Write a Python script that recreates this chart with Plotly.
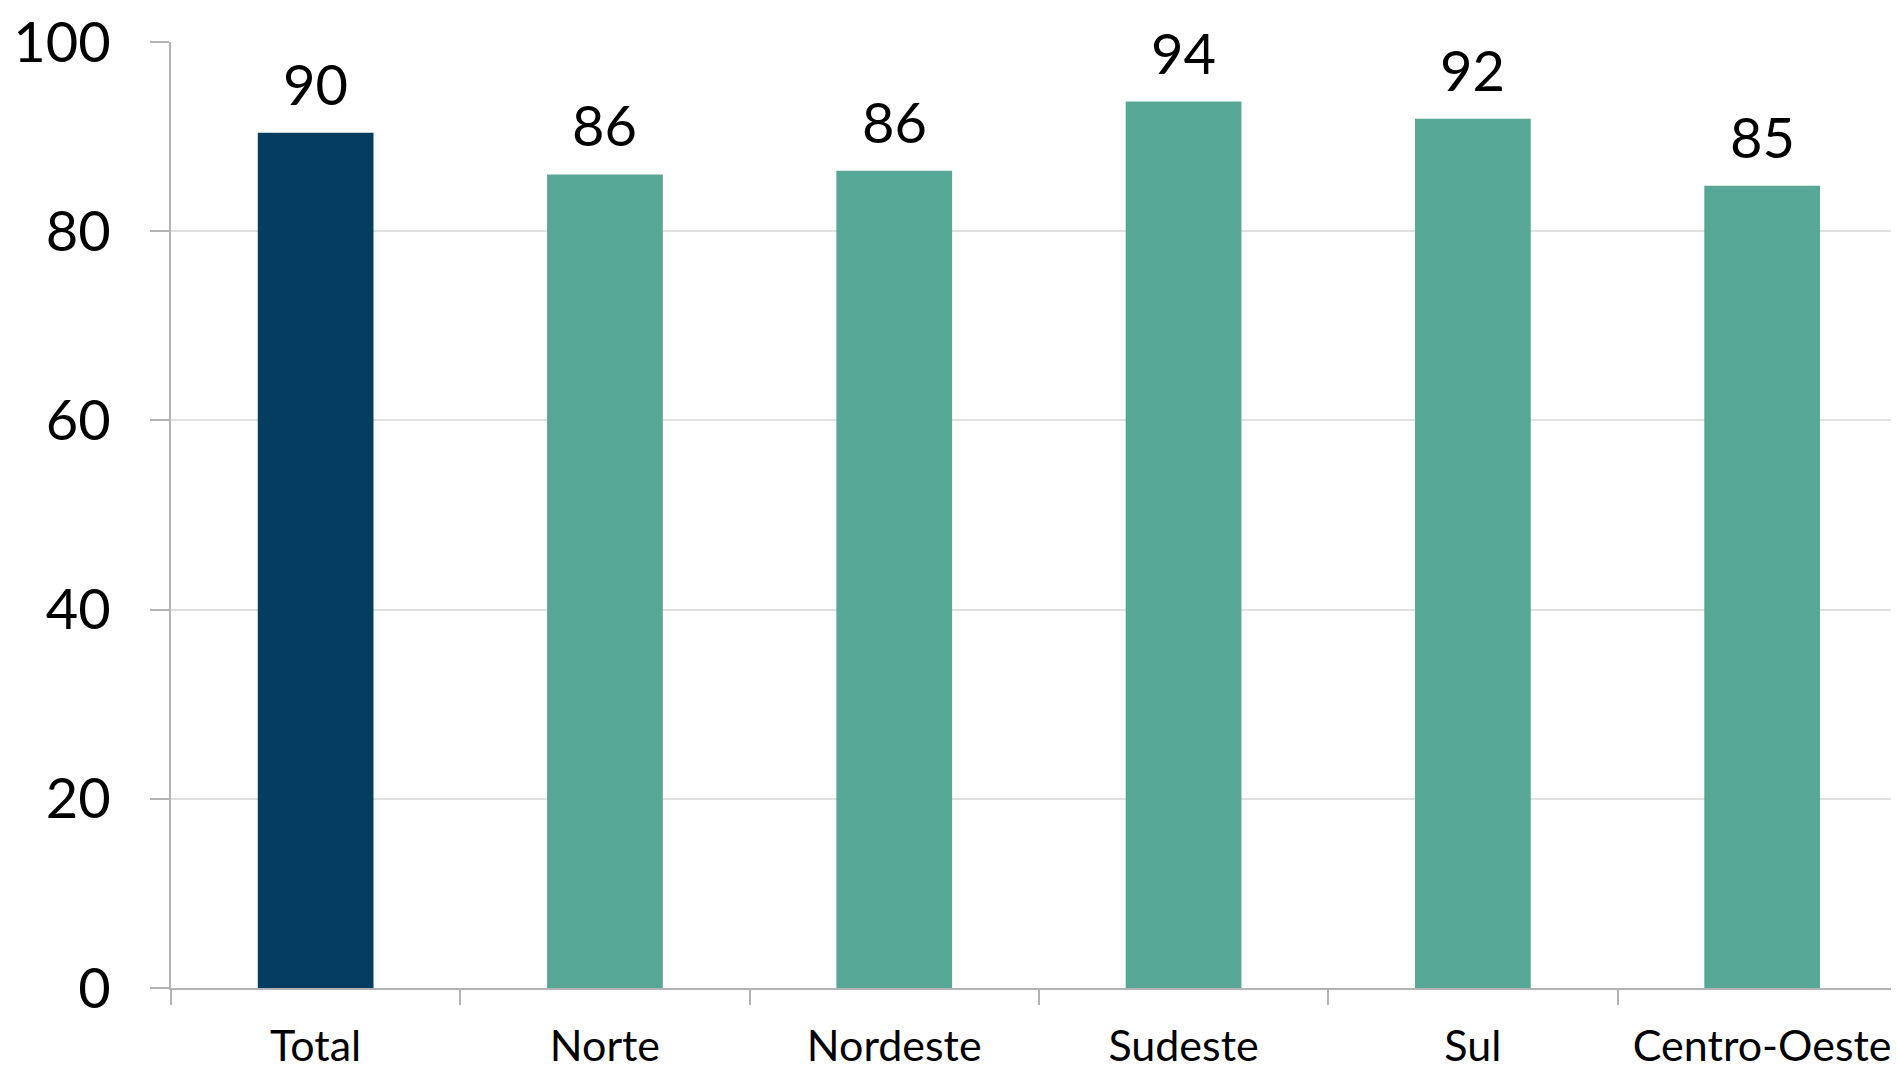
import plotly.graph_objects as go

categories = ["Total", "Norte", "Nordeste", "Sudeste", "Sul", "Centro-Oeste"]
values = [90.4, 86.0, 86.4, 93.7, 91.9, 84.8]
labels = ["90", "86", "86", "94", "92", "85"]
colors = ["#033D60", "#57A797", "#57A797", "#57A797", "#57A797", "#57A797"]
y_ticks = [0, 20, 40, 60, 80, 100]

FONT = "Lato"

fig = go.Figure()
fig.add_trace(go.Bar(
    x=categories,
    y=values,
    marker=dict(color=colors, line=dict(width=0)),
    width=0.4,
    hoverinfo="skip",
))

for c, v, t in zip(categories, values, labels):
    fig.add_annotation(
        x=c, y=v, text=t, showarrow=False,
        yanchor="bottom", yshift=14,
        font=dict(family=FONT, size=56, color="#000000"),
    )

fig.update_layout(
    width=1891, height=1063,
    margin=dict(l=163, r=0, t=34, b=83),
    paper_bgcolor="white", plot_bgcolor="white",
    showlegend=False,
)
fig.update_xaxes(
    type="category",
    range=[-0.5, 5.473],
    showline=True, linecolor="#B3B3B3", linewidth=2,
    ticks="outside", ticklen=15, tickcolor="#B3B3B3", tickwidth=2,
    tickson="boundaries",
    showgrid=False,
    automargin=False,
    ticklabeloverflow="allow",
    tickfont=dict(family=FONT, size=43, color="#000000"),
    ticklabelstandoff=19,
)
fig.update_yaxes(
    range=[0, 100],
    tickmode="array", tickvals=y_ticks,
    showline=True, linecolor="#B3B3B3", linewidth=2,
    ticks="outside", ticklen=19, tickcolor="#B3B3B3", tickwidth=2,
    showgrid=True, gridcolor="#E0E0E0", gridwidth=2,
    zeroline=False,
    automargin=False,
    ticklabeloverflow="allow",
    tickfont=dict(family=FONT, size=56, color="#000000"),
    ticklabelstandoff=28,
)

fig.write_html("out.html")
